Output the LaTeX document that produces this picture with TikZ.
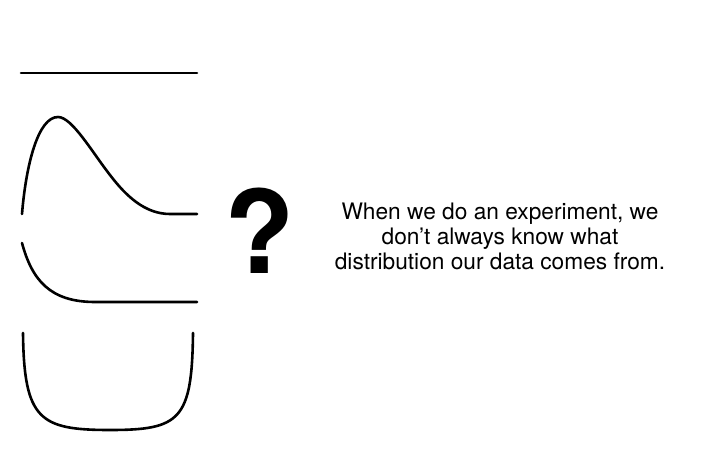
\documentclass[tikz,border=0pt]{standalone}
\usepackage{fontspec}
\setmainfont{TeX Gyre Heros}
\begin{document}
\begin{tikzpicture}[x=1pt,y=-1pt,
  curve/.style={line width=2.6pt, line cap=round, black},
  note/.style={align=center, font=\fontsize{22.7}{25.5}\selectfont, inner sep=0pt}]
\useasboundingbox (0,0) rectangle (728,462);
% uniform
\draw[curve] (21,73) -- (197,73);
% right-skewed
\draw[curve] (22,214) .. controls (26,165) and (38,117) .. (58,117)
  .. controls (72,117) and (92,152) .. (110,175)
  .. controls (126,196) and (145,214) .. (170,214) -- (197,214);
% exponential
\draw[curve] (22,243) .. controls (32,280) and (50,302) .. (95,302) -- (197,302);
% U-shaped
\draw[curve] (23,333) .. controls (24,420) and (40,430) .. (110,430)
  .. controls (180,430) and (192,420) .. (193,333);
\node[inner sep=0pt, anchor=base, font=\fontsize{115}{115}\selectfont\bfseries] (q) at (260,273) {?};
\node[note, anchor=base] (txt) at (500,270) {When we do an experiment, we\\don’t always know what\\distribution our data comes from.};
\end{tikzpicture}
\end{document}
